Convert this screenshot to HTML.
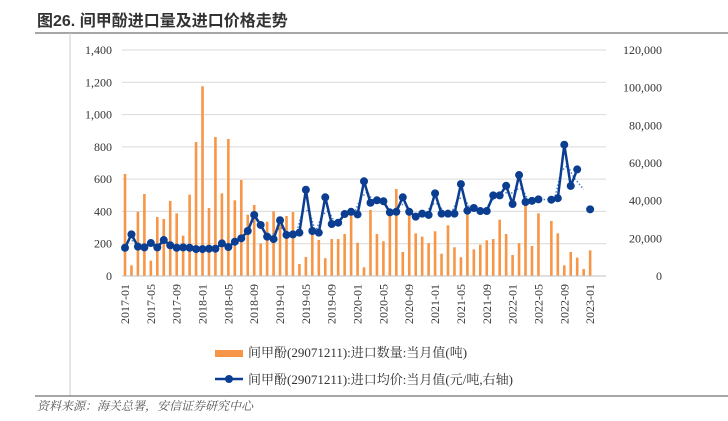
<!DOCTYPE html>
<html><head><meta charset="utf-8">
<style>
body{margin:0;background:#fff;}
svg text{font-family:"Liberation Serif","Noto Serif CJK SC",serif;}
</style></head>
<body>
<svg id="chart" width="728" height="416" viewBox="0 0 728 416" xmlns="http://www.w3.org/2000/svg">
<text x="37" y="26" font-size="16" font-weight="bold" fill="#333" style="font-family:'Liberation Sans','Noto Sans CJK SC',sans-serif">图26. 间甲酚进口量及进口价格走势</text>
<line x1="35" y1="33" x2="728" y2="33" stroke="#888" stroke-width="1.5"/>
<line x1="70" y1="33" x2="70" y2="396" stroke="#ccc" stroke-width="1"/>
<line x1="35" y1="396" x2="728" y2="396" stroke="#888" stroke-width="1.5"/>
<text x="37" y="410" font-size="12" font-style="italic" fill="#555" style="font-family:'Noto Serif CJK SC',serif">资料来源：海关总署，安信证券研究中心</text>
<g id="grid"></g><g id="bars"></g><g id="trend"></g><g id="line"></g><g id="axes"></g>
<g>
<rect x="215" y="350" width="28" height="7" fill="#f79646"/>
<text x="248" y="357" font-size="13" fill="#333" style="font-family:'Liberation Serif','Noto Serif CJK SC',serif">间甲酚(29071211):进口数量:当月值(吨)</text>
<line x1="215" y1="379" x2="243" y2="379" stroke="#0b3d91" stroke-width="2.5"/>
<circle cx="229" cy="379" r="4" fill="#0b3d91"/>
<text x="248" y="384" font-size="13" fill="#333" style="font-family:'Liberation Serif','Noto Serif CJK SC',serif">间甲酚(29071211):进口均价:当月值(元/吨,右轴)</text>
</g>
</svg>
<script>
const volume=[632,66,398,508,95,365,353,465,388,250,504,830,1175,421,861,512,849,469,595,380,440,202,336,401,316,372,396,74,118,285,223,110,229,229,260,392,206,54,409,260,215,388,539,149,388,264,244,204,277,138,314,178,116,388,165,194,221,229,349,260,130,204,450,186,388,0,341,264,66,149,114,43,159,0,0];
const price=[15000,22100,15600,15200,17500,15200,19100,16300,15000,15200,15000,14300,14300,14500,14500,17300,15400,18200,20000,23900,32400,27100,20900,19600,29600,21800,22100,23000,45800,23900,23000,41800,27600,28300,32900,34100,32700,50300,38900,40200,39700,33800,34100,41800,34100,31500,33100,32400,43900,33100,33100,33100,48800,34700,36100,34500,34500,42800,42800,47900,38200,53600,39300,39900,40700,null,40500,41300,69700,47800,56600,null,35400,null,null];
const leftTicks=[0,200,400,600,800,1000,1200,1400];
const rightTicks=[0,20000,40000,60000,80000,100000,120000];
const startYear=2017;
const NS="http://www.w3.org/2000/svg";
const x0=125,dx=6.46,yb=276,yt=50;
function X(i){return x0+i*dx;}
function YL(v){return yb-(v/1400)*(yb-yt);}
function YR(v){return yb-(v/120000)*(yb-yt);}
function mk(tag,attrs,parent){const e=document.createElementNS(NS,tag);for(const k in attrs)e.setAttribute(k,attrs[k]);parent.appendChild(e);return e;}
const grid=document.getElementById('grid'),axes=document.getElementById('axes');
leftTicks.forEach((t,k)=>{
 const g=mk('line',{x1:122,x2:606,y1:YL(t),y2:YL(t),stroke:'#d9d9d9','stroke-width':1},grid);
 
 
 const tx=mk('text',{x:112,y:YL(t)+4,'font-size':12,'text-anchor':'end',fill:'#333'},axes);
 tx.textContent=t.toLocaleString('en-US');
 
 
});
rightTicks.forEach(t=>{
 const tx=mk('text',{x:662,y:YR(t)+4,'font-size':12,'text-anchor':'end',fill:'#333'},axes);
 tx.textContent=t.toLocaleString('en-US');
 
 
});
const base=mk('line',{x1:122,x2:606,y1:yb,y2:yb,stroke:'#bfbfbf'},axes);


for(let i=0;i<volume.length;i+=4){
 const y=startYear+Math.floor(i/12),m=String(i%12+1).padStart(2,'0');
 const tx=mk('text',{x:0,y:0,'font-size':12,'text-anchor':'end',fill:'#333',transform:`translate(${X(i)+4},${284}) rotate(-90)`},axes);
 tx.textContent=y+'-'+m;
 
 
}
const bars=document.getElementById('bars');
volume.forEach((v,i)=>{
 if(!v)return;
 const r=mk('rect',{x:X(i)-1.3,y:YL(v),width:2.6,height:yb-YL(v),fill:'#f79646'},bars);
 
 
});
const tr=document.getElementById('trend');let pts=[],last=null;
price.forEach((v,i)=>{if(v==null)return;if(last!=null){pts.push(X((i+last)/2)+','+YR((v+price[last])/2));}last=i;});
const tp=mk('polyline',{points:pts.join(' '),fill:'none',stroke:'#4a7fd0','stroke-width':1.5,'stroke-dasharray':'1.5,2'},tr);


const ln=document.getElementById('line');
let seg=[];
function flush(){if(seg.length>1){const p=mk('polyline',{points:seg.join(' '),fill:'none',stroke:'#0b3d91','stroke-width':2.5,'stroke-linejoin':'round'},ln);
 
 }seg=[];}
price.forEach((v,i)=>{if(v==null){flush();return;}seg.push(X(i)+','+YR(v));});flush();
price.forEach((v,i)=>{if(v==null)return;
 const c=mk('circle',{cx:X(i),cy:YR(v),r:4,fill:'#0b3d91'},ln);
 
 
});
</script>
</body></html>
